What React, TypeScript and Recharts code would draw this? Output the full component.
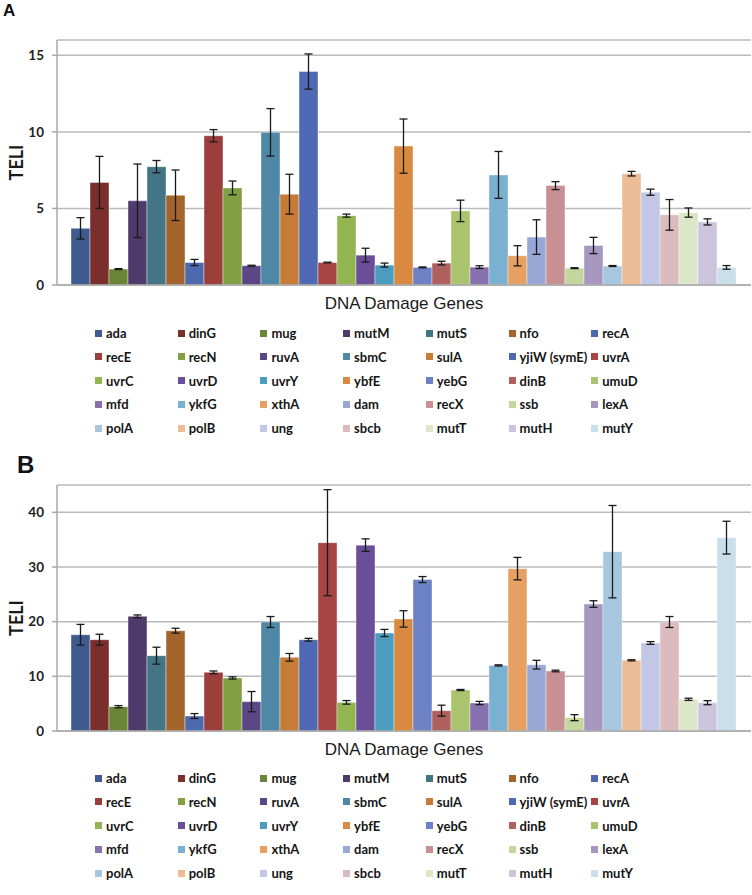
import React from "react";
import { BarChart, Bar, XAxis, YAxis, CartesianGrid, ErrorBar, Legend } from "recharts";

const genes = [
  "ada", "dinG", "mug", "mutM", "mutS", "nfo", "recA",
  "recE", "recN", "ruvA", "sbmC", "sulA", "yjiW (symE)", "uvrA",
  "uvrC", "uvrD", "uvrY", "ybfE", "yebG", "dinB", "umuD",
  "mfd", "ykfG", "xthA", "dam", "recX", "ssb", "lexA",
  "polA", "polB", "ung", "sbcb", "mutT", "mutH", "mutY",
];

const geneColors = [
  "#3e5a8e", "#7b2f2d", "#6a8535", "#4e3b6c", "#447587", "#a4652d", "#4d6aae",
  "#9c3e3c", "#81a043", "#5b4786", "#4f88a7", "#c67b36", "#4f69b5", "#a74545",
  "#92b552", "#6b4e98", "#4c9cc0", "#d98a40", "#6c82c5", "#b0615f", "#a9c46c",
  "#8670ad", "#7ab0d0", "#e5a062", "#98a8d6", "#c89093", "#c3d69e", "#a697c0",
  "#a6c7de", "#ebbc95", "#c2c7e6", "#dbbbbd", "#dce6c8", "#ccc3dc", "#c9dfea",
];

// panel A
const teliA = [
  3.7, 6.7, 1.04, 5.5, 7.73, 5.86, 1.47,
  9.75, 6.34, 1.26, 9.97, 5.93, 13.94, 1.47,
  4.53, 1.95, 1.3, 9.07, 1.15, 1.43, 4.84,
  1.17, 7.19, 1.91, 3.13, 6.49, 1.1, 2.58,
  1.24, 7.27, 6.06, 4.58, 4.73, 4.12, 1.15,
];
const errA = [
  0.7, 1.7, 0.03, 2.4, 0.4, 1.65, 0.2,
  0.4, 0.45, 0.03, 1.55, 1.3, 1.15, 0.02,
  0.1, 0.45, 0.13, 1.77, 0.03, 0.12, 0.7,
  0.09, 1.53, 0.66, 1.13, 0.26, 0.03, 0.53,
  0.03, 0.15, 0.2, 1.0, 0.3, 0.2, 0.12,
];

// panel B
const teliB = [
  17.6, 16.7, 4.45, 20.98, 13.78, 18.35, 2.74,
  10.73, 9.7, 5.37, 19.94, 13.48, 16.7, 34.45,
  5.24, 34.0, 17.93, 20.5, 27.7, 3.72, 7.5,
  5.12, 12.0, 29.7, 12.13, 10.98, 2.44, 23.23,
  32.8, 12.93, 16.1, 19.94, 5.8, 5.18, 35.37,
];
const errB = [
  1.9, 1.0, 0.2, 0.25, 1.55, 0.45, 0.45,
  0.25, 0.2, 1.85, 1.0, 0.7, 0.25, 9.7,
  0.33, 1.15, 0.65, 1.5, 0.55, 1.0, 0.1,
  0.3, 0.1, 2.05, 0.8, 0.15, 0.55, 0.6,
  8.45, 0.1, 0.25, 1.0, 0.2, 0.37, 3.0,
];

const ticksA = [0, 5, 10, 15];
const ticksB = [0, 10, 20, 30, 40];

const axisGray = "#a9a9a9";

function buildRow(vals: number[], errs: number[]) {
  const row: Record<string, number | string> = { name: "DNA Damage Genes" };
  vals.forEach((v, i) => {
    row[`g${i}`] = v;
    row[`e${i}`] = errs[i];
  });
  return [row];
}

const GeneLegend = () => (
  <div
    style={{
      position: "relative",
      width: 752,
      height: 120,
      fontFamily: "Lato, sans-serif",
      fontWeight: 700,
      fontSize: 13,
      color: "#151515",
    }}
  >
    {genes.map((g, i) => {
      const col = i % 7;
      const row = Math.floor(i / 7);
      return (
        <div
          key={g}
          style={{
            position: "absolute",
            left: 95 + col * 82.7,
            top: row * 23.75,
            height: 24,
            display: "flex",
            alignItems: "center",
            whiteSpace: "nowrap",
          }}
        >
          <span
            style={{
              display: "inline-block",
              width: 7,
              height: 7,
              background: geneColors[i],
              marginRight: 4,
            }}
          />
          {g}
        </div>
      );
    })}
  </div>
);

const makeTeli = (dy: number) => (props: any) => {
  const { viewBox } = props;
  const cx = 16;
  const cy = viewBox.y + viewBox.height / 2 + dy;
  return (
    <text
      x={cx}
      y={cy}
      transform={`rotate(-90 ${cx} ${cy})`}
      textAnchor="middle"
      dominantBaseline="central"
      fontFamily="Lato, sans-serif"
      fontWeight={700}
      fontSize={18}
      fill="#1a1a1a"
    >
      TELI
    </text>
  );
};

const xLabel = (props: any) => {
  const { viewBox } = props;
  return (
    <text
      x={viewBox.x + viewBox.width / 2}
      y={viewBox.y + 24}
      textAnchor="middle"
      fontFamily="Liberation Sans, Arial, sans-serif"
      fontSize={17}
      fill="#1a1a1a"
    >
      DNA Damage Genes
    </text>
  );
};

interface PanelProps {
  vals: number[];
  errs: number[];
  max: number;
  ticks: number[];
  height: number;
  xAxisHeight: number;
  teliDy: number;
}

function Panel({ vals, errs, max, ticks, height, xAxisHeight, teliDy }: PanelProps) {
  return (
    <BarChart
      width={752}
      height={height}
      data={buildRow(vals, errs)}
      margin={{ top: 40, right: 1, left: 0, bottom: 0 }}
      barCategoryGap={14}
      barGap={0}
    >
      <CartesianGrid vertical={false} stroke="#bababa" strokeWidth={1.5} />
      <XAxis
        dataKey="name"
        tick={false}
        tickLine={false}
        axisLine={{ stroke: axisGray, strokeWidth: 1.5 }}
        height={xAxisHeight}
        label={xLabel}
      />
      <YAxis
        width={57}
        domain={[0, max]}
        ticks={ticks}
        allowDataOverflow
        tickSize={5}
        tickMargin={8}
        axisLine={{ stroke: axisGray, strokeWidth: 1.5 }}
        tickLine={{ stroke: axisGray, strokeWidth: 1.5 }}
        tick={{ fill: "#222", fontSize: 13.5, fontFamily: "Lato, sans-serif", fontWeight: 700 }}
        label={makeTeli(teliDy)}
      />
      {genes.map((g, i) => (
        <Bar
          key={g}
          dataKey={`g${i}`}
          name={g}
          fill={geneColors[i]}
          stroke="rgba(255,255,255,0.5)"
          strokeWidth={0.8}
          isAnimationActive={false}
        >
          <ErrorBar
            dataKey={`e${i}`}
            direction="y"
            width={4}
            stroke="#1a1a1a"
            strokeWidth={1.3}
          />
        </Bar>
      ))}
      <Legend
        layout="vertical"
        verticalAlign="middle"
        align="center"
        content={GeneLegend}
        wrapperStyle={{ top: 321, left: 0, width: 752, height: 120 }}
      />
    </BarChart>
  );
}

export default function App() {
  return (
    <div
      style={{
        position: "absolute",
        left: 0,
        top: 0,
        width: 752,
        height: 895,
        background: "#fff",
        overflow: "hidden",
      }}
    >
      <div
        style={{
          position: "absolute",
          left: 3,
          top: 1,
          fontFamily: "Liberation Sans, Arial, sans-serif",
          fontWeight: 700,
          fontSize: 17,
          color: "#111",
        }}
      >
        A
      </div>
      <div
        style={{
          position: "absolute",
          left: 17,
          top: 451,
          fontFamily: "Liberation Sans, Arial, sans-serif",
          fontWeight: 700,
          fontSize: 24,
          color: "#111",
        }}
      >
        B
      </div>
      <div style={{ position: "absolute", left: 0, top: 0 }}>
        <Panel
          vals={teliA}
          errs={errA}
          max={16}
          ticks={ticksA}
          height={445}
          xAxisHeight={160}
          teliDy={0}
        />
      </div>
      <div style={{ position: "absolute", left: 0, top: 445 }}>
        <Panel
          vals={teliB}
          errs={errB}
          max={45}
          ticks={ticksB}
          height={450}
          xAxisHeight={164}
          teliDy={10}
        />
      </div>
    </div>
  );
}
